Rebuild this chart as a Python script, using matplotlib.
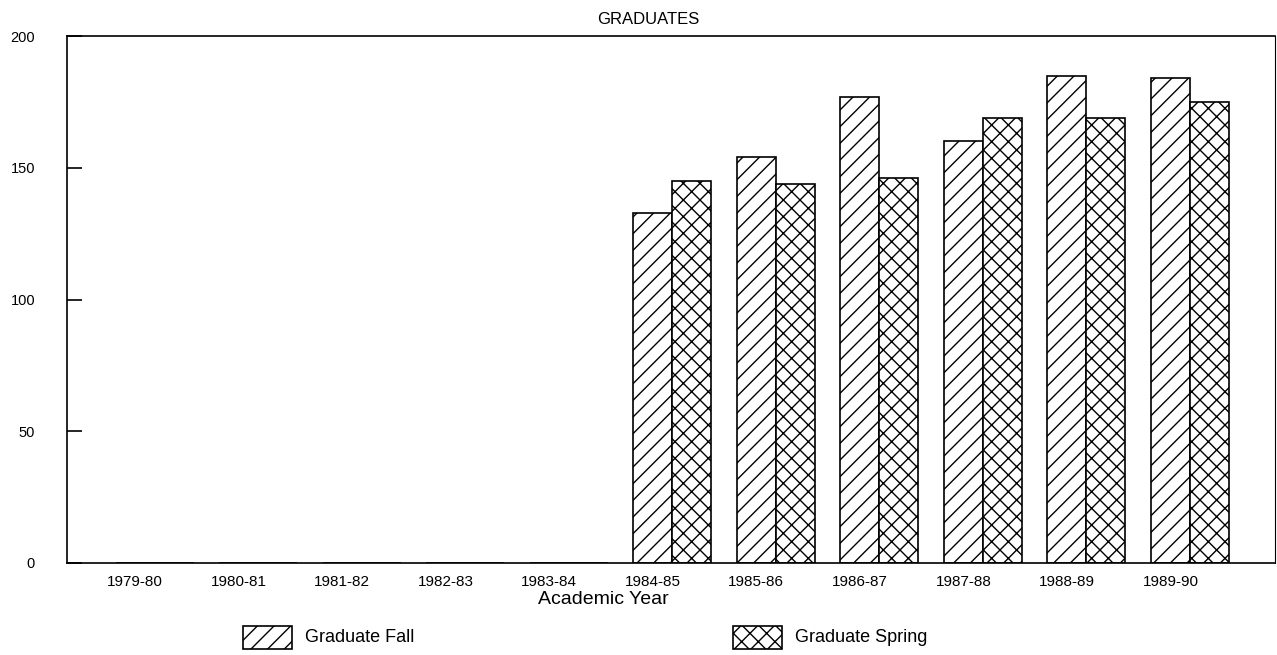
import numpy as np
import matplotlib
matplotlib.use("Agg")
import matplotlib.pyplot as plt
from matplotlib.patches import Rectangle

# =========================
# DATA
# =========================
years = [
    "1979-80", "1980-81", "1981-82", "1982-83", "1983-84", "1984-85",
    "1985-86", "1986-87", "1987-88", "1988-89", "1989-90"
]

fall = [0, 0, 0, 0, 0, 133, 154, 177, 160, 185, 184]

spring = [0, 0, 0, 0, 0, 145, 144, 146, 169, 169, 175]

series_names = ["Graduate Fall", "Graduate Spring"]

y_ticks = [0, 50, 100, 150, 200]


# =========================
# STYLE
# =========================
plt.rcParams["font.family"] = ["Liberation Sans", "DejaVu Sans"]
plt.rcParams["hatch.linewidth"] = 1.0
plt.rcParams["hatch.color"] = "black"

W, H = 1277, 655

fig = plt.figure(figsize=(W / 100, H / 100), dpi=100)

ax = fig.add_axes([
    67 / W,
    (H - 563) / H,
    (1275 - 67) / W,
    (563 - 36) / H
])

x = np.arange(len(years))
bar_w = 0.377

fall_hatch = "//"
spring_hatch = "xx"

ax.bar(
    x,
    fall,
    width=bar_w,
    facecolor="white",
    edgecolor="black",
    linewidth=1.2,
    hatch=fall_hatch
)

ax.bar(
    x + bar_w,
    spring,
    width=bar_w,
    facecolor="white",
    edgecolor="black",
    linewidth=1.2,
    hatch=spring_hatch
)

ax.set_xlim(-0.657, 11.01)
ax.set_ylim(0, 200)

ax.set_xticks(x)
ax.set_xticklabels(years, fontsize=11)
ax.tick_params(axis="x", length=0, pad=9)

ax.set_yticks(y_ticks)
ax.set_yticklabels([str(v) for v in y_ticks], fontsize=10.5)
ax.tick_params(
    axis="y",
    direction="in",
    length=11,
    width=1.2,
    pad=23
)

for side in ["left", "bottom", "top"]:
    ax.spines[side].set_linewidth(1.2)
ax.spines["right"].set_linewidth(0.8)

# title and axis label
fig.text(
    648 / W, 1 - 19 / H,
    "GRADUATES",
    ha="center", va="center",
    fontsize=12
)

fig.text(
    603 / W, 1 - 600 / H,
    "Academic Year",
    ha="center", va="center",
    fontsize=14
)

# =========================
# LEGEND
# =========================
legend_items = [
    (243, fall_hatch, series_names[0]),
    (733, spring_hatch, series_names[1]),
]

for px, hatch, label in legend_items:

    fig.patches.append(
        Rectangle(
            (px / W, 1 - 649 / H),
            49 / W,
            23 / H,
            transform=fig.transFigure,
            facecolor="white",
            edgecolor="black",
            linewidth=1.2,
            hatch=hatch
        )
    )

    fig.text(
        (px + 62) / W, 1 - 638 / H,
        label,
        ha="left", va="center",
        fontsize=13
    )

fig.savefig("out.png", dpi=100)
